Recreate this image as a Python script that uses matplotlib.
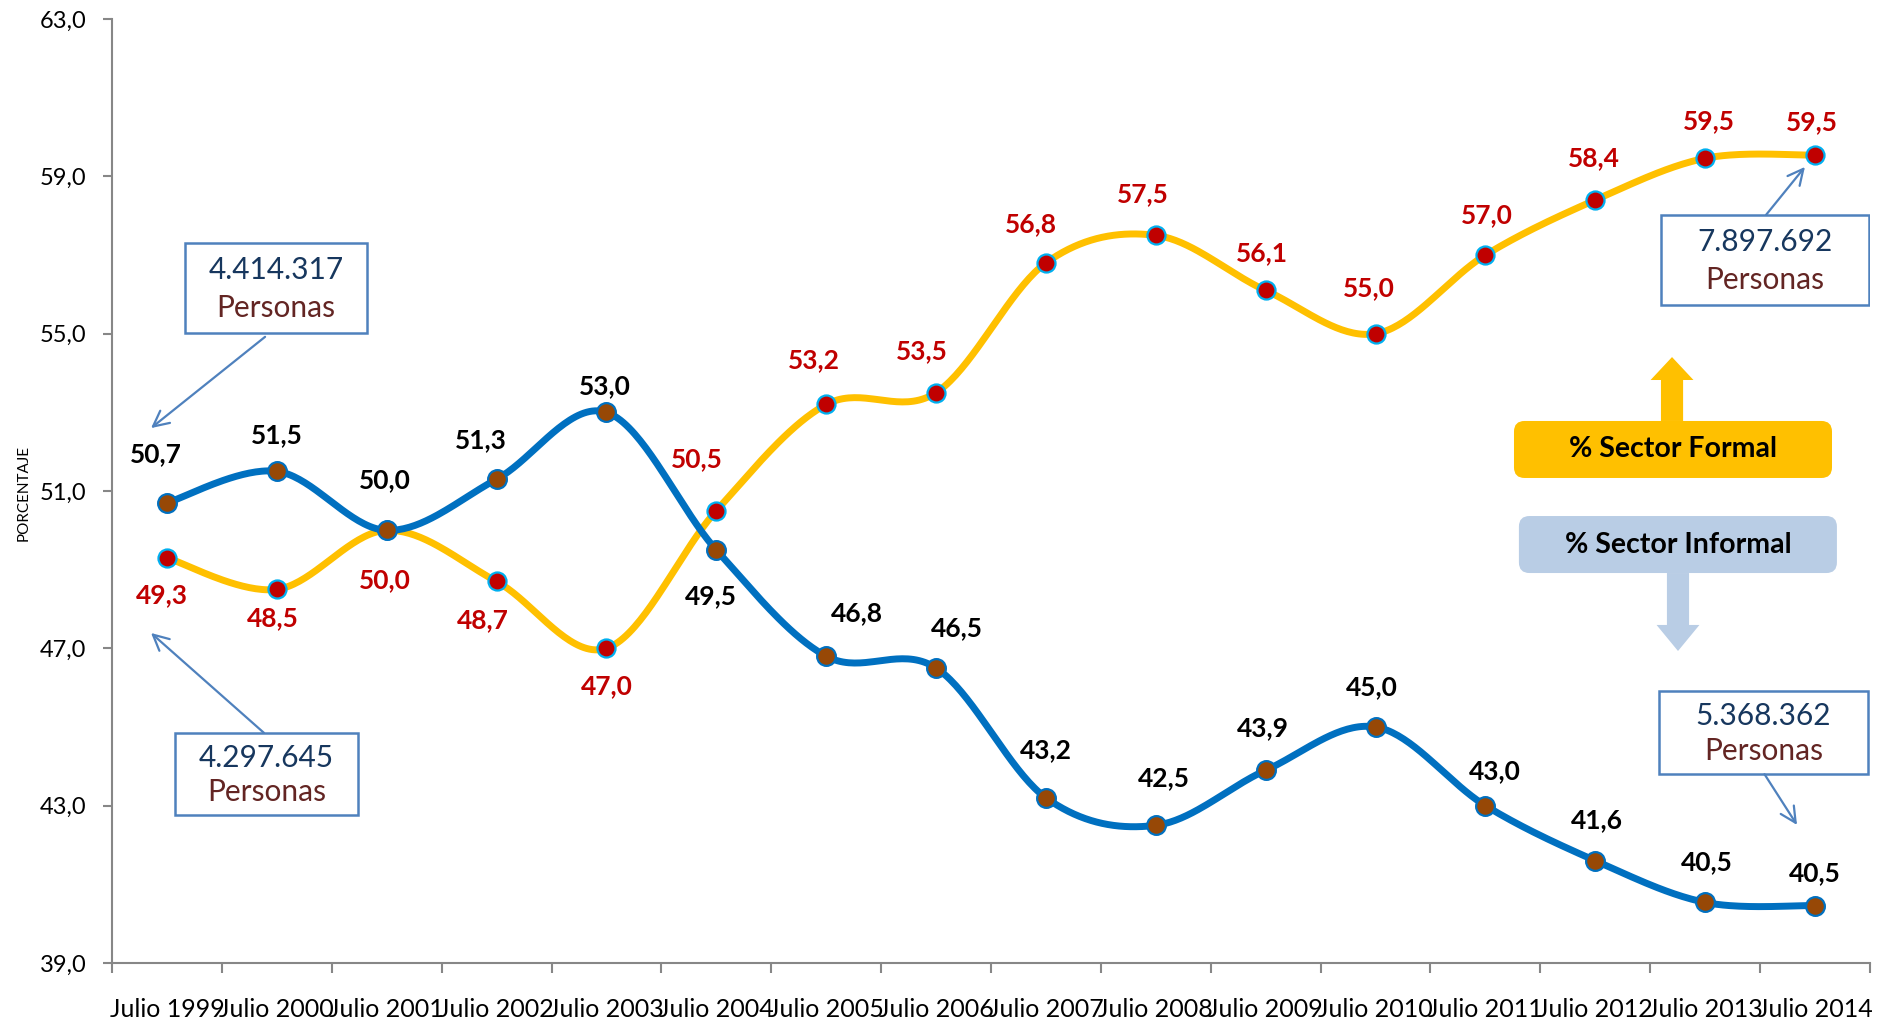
import numpy as np
import matplotlib
matplotlib.use("Agg")
import matplotlib.pyplot as plt
from matplotlib.patches import Rectangle, FancyBboxPatch, Polygon

plt.rcParams['font.family'] = ['Lato', 'DejaVu Sans']

# Datos
anios = ['Julio 1999', 'Julio 2000', 'Julio 2001', 'Julio 2002', 'Julio 2003',
         'Julio 2004', 'Julio 2005', 'Julio 2006', 'Julio 2007', 'Julio 2008',
         'Julio 2009', 'Julio 2010', 'Julio 2011', 'Julio 2012', 'Julio 2013',
         'Julio 2014']
informal = [50.7, 51.5, 50.0, 51.3, 53.0, 49.5, 46.8, 46.5, 43.2, 42.5,
            43.9, 45.0, 43.0, 41.6, 40.54, 40.46]
formal = [49.3, 48.5, 50.0, 48.7, 47.0, 50.5, 53.2, 53.5, 56.8, 57.5,
          56.1, 55.0, 57.0, 58.4, 59.46, 59.54]
yticks = [39, 43, 47, 51, 55, 59, 63]

# desplazamiento de etiquetas (puntos)
off_inf = [(-8, 35), (0, 26), (-1, 36), (-11, 28), (-1, 19), (-4, -33),
           (22, 31), (15, 29), (0, 34), (6, 34), (-2, 30), (-3, 29),
           (7, 25), (1, 29), (1, 29), (0, 23)]
off_for = [(-4, -27), (-3, -21), (-1, -36), (-10, -28), (0, -27), (-14, 37),
           (-9, 32), (-10, 30), (-11, 28), (-9, 30), (-3, 27), (-5, 33),
           (1, 29), (-1, 30), (3, 27), (-2, 24)]

# cajas de personas: (texto, x0, x1, y0, y1, cola, punta)
cajas = [
    ('4.414.317', 0.164, 1.821, 55.02, 57.30, (0.893, 54.92), (-0.145, 52.60)),
    ('4.297.645', 0.073, 1.739, 42.76, 44.85, (0.883, 44.85), (-0.145, 47.39)),
    ('7.897.692', 13.598, 15.491, 55.73, 58.02, (14.554, 58.02), (14.908, 59.24)),
    ('5.368.362', 13.580, 15.482, 43.80, 45.91, (14.540, 43.80), (14.836, 42.51)),
]


def suavizar(xs, ys, n=40):
    # curva suavizada tipo Excel (Bezier con tangentes Catmull-Rom)
    P = np.column_stack([xs, ys]).astype(float)
    Pe = np.vstack([P[0], P, P[-1]])
    t = np.linspace(0, 1, n)[:, None]
    out = []
    for i in range(len(P) - 1):
        p0, p3 = P[i], P[i + 1]
        c1 = p0 + (Pe[i + 2] - Pe[i]) / 6
        c2 = p3 - (Pe[i + 3] - Pe[i + 1]) / 6
        seg = (1 - t)**3 * p0 + 3 * (1 - t)**2 * t * c1 + 3 * (1 - t) * t**2 * c2 + t**3 * p3
        out.append(seg if i == 0 else seg[1:])
    return np.vstack(out).T


fig = plt.figure(figsize=(18.86, 10.24), dpi=100)
ax = fig.add_axes([0.0594, 0.0596, 0.9321, 0.9218])

x = np.arange(len(anios))

sx, sy = suavizar(x, formal)
ax.plot(sx, sy, color='#FFC000', lw=5, solid_capstyle='round', zorder=3)
ax.plot(x, formal, 'o', ms=13, mfc='#C00000', mec='#00B0F0', mew=1.6, zorder=4)

sx, sy = suavizar(x, informal)
ax.plot(sx, sy, color='#0070C0', lw=5, solid_capstyle='round', zorder=5)
ax.plot(x, informal, 'o', ms=13.5, mfc='#974806', mec='#0070C0', mew=1.6, zorder=6)

for i in range(len(x)):
    ax.annotate(f"{informal[i]:.1f}".replace('.', ','), (x[i], informal[i]),
                xytext=off_inf[i], textcoords='offset points', ha='center',
                va='center', fontsize=19, fontweight='bold', color='black', zorder=7)
    ax.annotate(f"{formal[i]:.1f}".replace('.', ','), (x[i], formal[i]),
                xytext=off_for[i], textcoords='offset points', ha='center',
                va='center', fontsize=19, fontweight='bold', color='#C00000', zorder=7)

# ejes
ax.set_xlim(-0.5, len(anios) - 0.5)
ax.set_ylim(39, 63)
ax.set_yticks(yticks)
ax.set_yticklabels([f"{v:.1f}".replace('.', ',') for v in yticks])
ax.set_xticks(x)
ax.set_xticklabels(anios)
ax.set_xticks(np.arange(-0.5, len(anios)), minor=True)
ax.tick_params(axis='x', which='major', length=0, pad=25, labelsize=18)
ax.tick_params(axis='x', which='minor', length=7, width=1.5, color='#878787')
ax.tick_params(axis='y', length=6.5, width=1.5, color='#878787', pad=12, labelsize=17)
for s in ['top', 'right']:
    ax.spines[s].set_visible(False)
for s in ['left', 'bottom']:
    ax.spines[s].set_color('#878787')
    ax.spines[s].set_linewidth(1.5)

fig.text(0.0127, 0.519, 'PORCENTAJE', rotation=90, ha='center', va='center', fontsize=11)

# cajas con cantidad de personas
for txt, x0, x1, y0, y1, cola, punta in cajas:
    ax.add_patch(Rectangle((x0, y0), x1 - x0, y1 - y0, fill=True, fc='white',
                           ec='#4F81BD', lw=1.8, zorder=8))
    xc = (x0 + x1) / 2
    h = y1 - y0
    ax.text(xc, y0 + h * 0.70, txt, ha='center', va='center', fontsize=21.5,
            color='#17375E', zorder=9)
    ax.text(xc, y0 + h * 0.28, 'Personas', ha='center', va='center', fontsize=21.5,
            color='#632523', zorder=9)
    ax.annotate('', xy=punta, xytext=cola,
                arrowprops=dict(arrowstyle='->', color='#4F81BD', lw=1.6,
                                mutation_scale=28, shrinkA=0, shrinkB=0), zorder=8)

# rótulos de sector con flechas
asp = 1758 / 944
ax.add_patch(FancyBboxPatch((0.7975, 0.5138), 0.1809, 0.0604,
                            boxstyle='round,pad=0,rounding_size=0.006',
                            mutation_aspect=asp, transform=ax.transAxes,
                            fc='#FFC000', ec='none', zorder=8))
ax.text(0.7975 + 0.1809 / 2, 0.5138 + 0.0302, '% Sector Formal', transform=ax.transAxes,
        ha='center', va='center', fontsize=20.5, fontweight='bold', zorder=9)
cx = 0.8874
ax.add_patch(Polygon([(cx - 0.0063, 0.5742), (cx - 0.0063, 0.6176), (cx - 0.0122, 0.6176),
                      (cx, 0.6419), (cx + 0.0122, 0.6176), (cx + 0.0063, 0.6176),
                      (cx + 0.0063, 0.5742)], closed=True, transform=ax.transAxes,
                     fc='#FFC000', ec='none', zorder=8))

ax.add_patch(FancyBboxPatch((0.8003, 0.4131), 0.1809, 0.0604,
                            boxstyle='round,pad=0,rounding_size=0.006',
                            mutation_aspect=asp, transform=ax.transAxes,
                            fc='#B9CDE5', ec='none', zorder=8))
ax.text(0.8003 + 0.1809 / 2, 0.4131 + 0.0302, '% Sector Informal', transform=ax.transAxes,
        ha='center', va='center', fontsize=20.5, fontweight='bold', zorder=9)
cx = 0.8908
ax.add_patch(Polygon([(cx - 0.0063, 0.4131), (cx - 0.0063, 0.3581), (cx - 0.0122, 0.3581),
                      (cx, 0.3305), (cx + 0.0122, 0.3581), (cx + 0.0063, 0.3581),
                      (cx + 0.0063, 0.4131)], closed=True, transform=ax.transAxes,
                     fc='#B9CDE5', ec='none', zorder=8))

fig.savefig('out.png', dpi=100)
